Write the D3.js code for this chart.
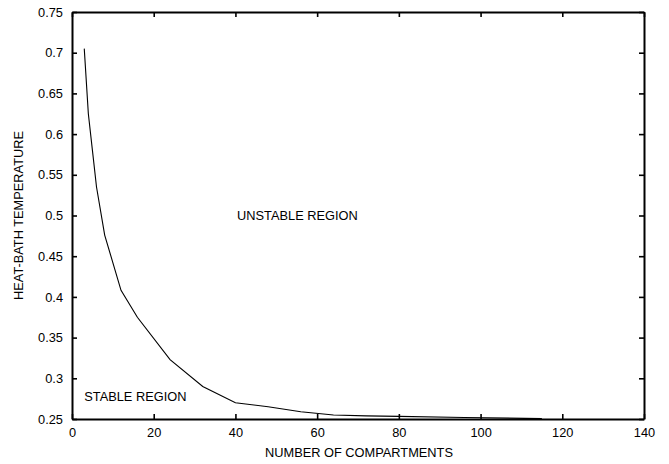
<!DOCTYPE html>
<html><head><meta charset="utf-8">
<script src="https://cdn.jsdelivr.net/npm/d3@7"></script>
<style>body{margin:0;background:#fff}svg{display:block}text{font-family:"Liberation Sans",Arial,Helvetica,sans-serif;fill:#000}</style>
</head><body>
<script>
const compartments = [3, 4, 5, 6, 8, 12, 16, 24, 32, 40, 48, 56, 64, 72, 80, 96, 115];
const temperature = [0.705, 0.625, 0.58, 0.535, 0.476, 0.408, 0.375, 0.323, 0.290, 0.270, 0.265, 0.259, 0.255, 0.2538, 0.2532, 0.2518, 0.2505];
const xTicks = [0, 20, 40, 60, 80, 100, 120, 140];
const yTicks = [0.25, 0.3, 0.35, 0.4, 0.45, 0.5, 0.55, 0.6, 0.65, 0.7, 0.75];
const yTickLabels = ["0.25","0.3","0.35","0.4","0.45","0.5","0.55","0.6","0.65","0.7","0.75"];

const W = 669, H = 464;
const m = {left: 72, right: 25, top: 12, bottom: 45};
const svg = d3.select("body").append("svg").attr("width", W).attr("height", H);
const x = d3.scaleLinear().domain([0, 140]).range([m.left, W - m.right]);
const y = d3.scaleLinear().domain([0.25, 0.75]).range([H - m.bottom, m.top]);

const fs = "12.8px";
// axes with inward ticks
const ax = svg.append("g");
ax.append("g").attr("transform", `translate(0,${y(0.25)})`)
  .call(d3.axisBottom(x).tickValues(xTicks).tickSizeInner(-5).tickSizeOuter(0).tickPadding(9).tickFormat(d3.format("d")));
ax.append("g").attr("transform", `translate(0,${y(0.75)})`)
  .call(d3.axisTop(x).tickValues(xTicks).tickSizeInner(-5).tickSizeOuter(0).tickFormat(""));
ax.append("g").attr("transform", `translate(${x(0)},0)`)
  .call(d3.axisLeft(y).tickValues(yTicks).tickSizeInner(-5).tickSizeOuter(0).tickPadding(9).tickFormat((d,i)=>yTickLabels[i]));
ax.append("g").attr("transform", `translate(${x(140)},0)`)
  .call(d3.axisRight(y).tickValues(yTicks).tickSizeInner(-5).tickSizeOuter(0).tickFormat(""));
ax.selectAll(".domain").attr("stroke", "#000").attr("stroke-width", 2);
ax.selectAll(".tick line").attr("stroke", "#000").attr("stroke-width", 1.6);
ax.selectAll(".tick text").style("font-size", fs).style("font-family", '"Liberation Sans",Arial,sans-serif').attr("fill", "#000");

const line = d3.line().x((d,i)=>x(compartments[i])).y((d,i)=>y(temperature[i]));
svg.append("path").datum(temperature).attr("d", line)
  .attr("fill", "none").attr("stroke", "#000").attr("stroke-width", 1.1);

svg.append("text").attr("x", x(40.4)).attr("y", y(0.4939)).style("font-size", fs).text("UNSTABLE REGION");
svg.append("text").attr("x", x(3)).attr("y", y(0.2727)).style("font-size", fs).text("STABLE REGION");

svg.append("text").attr("x", (x(0)+x(140))/2 + 1).attr("y", 456.5).attr("text-anchor", "middle").style("font-size", fs).text("NUMBER OF COMPARTMENTS");
svg.append("text").attr("transform", `translate(22.5,${(y(0.25)+y(0.75))/2}) rotate(-90)`).attr("text-anchor", "middle").style("font-size", fs).text("HEAT-BATH TEMPERATURE");
</script>
</body></html>
